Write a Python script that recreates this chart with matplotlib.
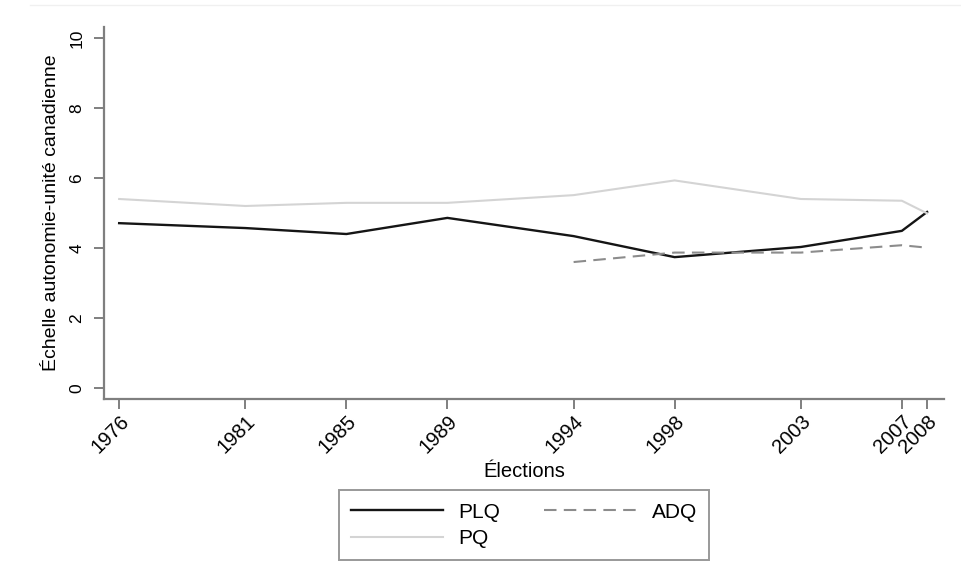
import numpy as np
import matplotlib
matplotlib.use('Agg')
import matplotlib.pyplot as plt
import matplotlib.transforms as mtransforms

plt.rcParams['font.family'] = ['Liberation Sans', 'DejaVu Sans']

years = [1976, 1981, 1985, 1989, 1994, 1998, 2003, 2007, 2008]
plq = [4.71, 4.57, 4.40, 4.86, 4.34, 3.74, 4.03, 4.49, 5.03]
pq = [5.40, 5.20, 5.29, 5.29, 5.51, 5.93, 5.40, 5.35, 4.99]
adq_years = [1994, 1998, 2003, 2007, 2008]
adq = [3.60, 3.87, 3.87, 4.08, 4.01]

axis_grey = '#7f7f7f'

fig = plt.figure(figsize=(9.61, 5.79), dpi=100)
ax = fig.add_axes([104 / 961, 1 - 399 / 579, (944 - 104) / 961, (399 - 27) / 579])

l_plq, = ax.plot(years, plq, color='#151515', lw=1.7, label='PLQ')
l_pq, = ax.plot(years, pq, color='#d4d4d4', lw=1.5, label='PQ')
l_adq, = ax.plot(adq_years, adq, color='#8c8c8c', lw=1.5,
                 dashes=(6, 3.5), label='ADQ')

ax.set_xlim(1975.4, 2008.67)
ax.set_ylim(-0.31, 10.31)
ax.set_xticks(years)
ax.set_xticklabels([str(y) for y in years], rotation=45, ha='right',
                   rotation_mode='anchor', fontsize=14.5)
# nudge the slanted year labels so their end sits under the tick
shift = mtransforms.ScaledTranslation(4 / 100, 0, fig.dpi_scale_trans)
for lab in ax.get_xticklabels():
    lab.set_transform(lab.get_transform() + shift)
ax.set_yticks([0, 2, 4, 6, 8, 10])
ax.set_yticklabels(['0', '2', '4', '6', '8', '10'], rotation=90,
                   va='center', fontsize=12.5)

for side in ['top', 'right']:
    ax.spines[side].set_visible(False)
for side in ['left', 'bottom']:
    ax.spines[side].set_color(axis_grey)
    ax.spines[side].set_linewidth(1.6)
ax.tick_params(axis='both', colors=axis_grey, width=1.4, length=7,
               labelcolor='black')
ax.tick_params(axis='y', pad=7)
ax.tick_params(axis='x', pad=2)

ax.set_ylabel('Échelle autonomie-unité canadienne', fontsize=14, labelpad=7)
ax.set_xlabel('Élections', fontsize=14.5, labelpad=4)

lgd = fig.legend(handles=[l_plq, l_pq, l_adq], ncol=2,
                 loc='upper center', bbox_to_anchor=(524 / 961, 1 - 490 / 579),
                 borderaxespad=0, fontsize=15, handlelength=4.4,
                 columnspacing=2.1, handletextpad=0.75, labelspacing=0.35,
                 borderpad=0.6, fancybox=False, frameon=True)
lgd.get_frame().set_edgecolor(axis_grey)
lgd.get_frame().set_linewidth(1.4)

# faint rule at the very top, as in the original page
fig.add_artist(plt.Line2D([30 / 961, 1], [1 - 5 / 579, 1 - 5 / 579],
                          color='#f0f0f0', lw=1))

fig.savefig('out.png', dpi=100)
